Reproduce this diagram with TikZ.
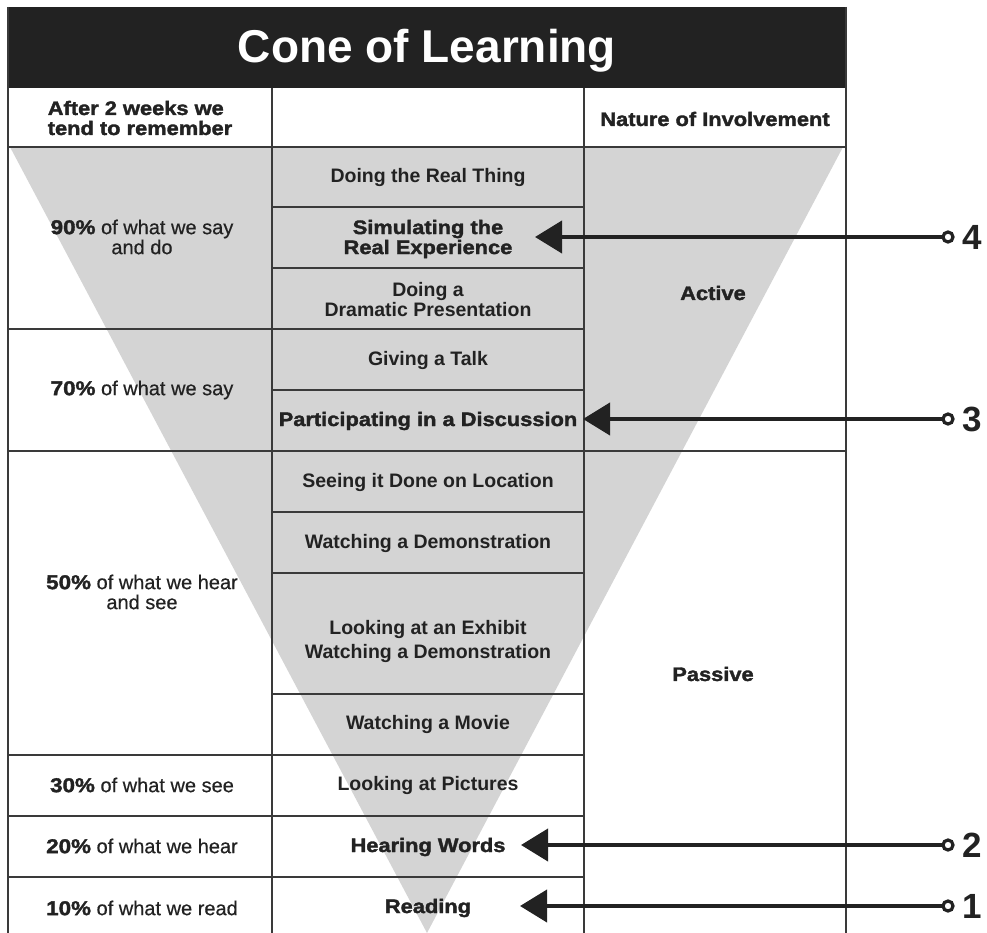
\documentclass[tikz,border=0pt]{standalone}
\usepackage{fontspec}
\setmainfont{Liberation Sans}
\newfontfamily\blackfont[FakeBold=1.8,FakeStretch=1.12]{Liberation Sans Bold}
\newfontfamily\medfont[FakeBold=0.5]{Liberation Sans}
\usetikzlibrary{positioning, arrows.meta}
\definecolor{conegray}{HTML}{D4D4D4}
\definecolor{rule}{HTML}{3A3A3A}
\definecolor{ink}{HTML}{222222}
\newcommand{\hi}[1]{{\blackfont #1}}
\tikzset{>=latex,
  grid/.style={draw=rule, line width=1.6pt},
  titlefont/.style={font=\fontsize{46}{46}\selectfont\bfseries, text=white, inner sep=0pt},
  item/.style={font=\fontsize{19.5}{20}\selectfont\bfseries, text=ink, align=center, inner sep=0pt},
  hot/.style={font=\fontsize{19.5}{20}\selectfont\blackfont, text=ink, align=center, inner sep=0pt},
  pct/.style={font=\fontsize{20}{20}\selectfont\medfont, text=ink, align=center, inner sep=0pt},
  pointer/.style={draw=ink, line width=4pt, -{Triangle[length=27pt,width=32pt]}},
  ring/.style={circle, draw=ink, line width=3.2pt, fill=white, minimum size=10pt, inner sep=0pt},
  numlbl/.style={font=\fontsize{35}{35}\selectfont\bfseries, text=ink, inner sep=0pt}
}

\begin{document}
\begin{tikzpicture}[x=1pt, y=-1pt]
\useasboundingbox (0,0) rectangle (987,933);
% the cone
\fill[conegray] (10,147) -- (843,147) -- (427,933) -- cycle;
% title bar
\fill[ink] (8,7) rectangle (846,88);
\node[titlefont] (title) at (427,51) {Cone of Learning};
% table rules
\draw[grid] (8,7) -- (8,933);
\draw[grid] (846,7) -- (846,933);
\draw[grid] (272,88) -- (272,933);
\draw[grid] (584,88) -- (584,933);
\draw[grid] (8,147) -- (846,147);
\draw[grid] (8,451) -- (846,451);
\foreach \y in {329,755,816,877} \draw[grid] (8,\y) -- (584,\y);
\foreach \y in {207,268,390,512,573,694} \draw[grid] (272,\y) -- (584,\y);
% headers
\node[hot, align=left] (hdrL) at (140,118) {After 2 weeks we\\tend to remember};
\node[hot] (hdrR) at (715,119) {Nature of Involvement};
% what we remember
\node[pct] (p90) at (142,237) {\hi{90\%} of what we say\\and do};
\node[pct] (p70) at (142,390) {\hi{70\%} of what we say};
\node[pct] (p50) at (142,592) {\hi{50\%} of what we hear\\and see};
\node[pct] (p30) at (142,785) {\hi{30\%} of what we see};
\node[pct] (p20) at (142,846) {\hi{20\%} of what we hear};
\node[pct] (p10) at (142,908) {\hi{10\%} of what we read};
% activities
\node[item] (m1) at (428,178) {Doing the Real Thing};
\node[hot] (m2) at (428,239) {Simulating the\\Real Experience};
\node[item] (m3) at (428,300) {Doing a\\Dramatic Presentation};
\node[item] (m4) at (428,360) {Giving a Talk};
\node[hot] (m5) at (428,421) {Participating in a Discussion};
\node[item] (m6) at (428,482) {Seeing it Done on Location};
\node[item] (m7) at (428,543) {Watching a Demonstration};
\node[item] (m8) at (428,641) {Looking at an Exhibit\\[4pt]Watching a Demonstration};
\node[item] (m9) at (428,724) {Watching a Movie};
\node[item] (m10) at (428,785) {Looking at Pictures};
\node[hot] (m11) at (428,847) {Hearing Words};
\node[hot] (m12) at (428,908) {Reading};
% involvement
\node[hot] (act) at (713,293) {Active};
\node[hot] (pas) at (713,674) {Passive};
% pointers
\coordinate (t4) at (535,237);
\coordinate (t3) at (583,419);
\coordinate (t2) at (521,845);
\coordinate (t1) at (520,906);
\coordinate (s4) at (948,237);
\coordinate (s3) at (948,419);
\coordinate (s2) at (948,845);
\coordinate (s1) at (948,906);
\draw[pointer] (s4) -- (t4);
\draw[pointer] (s3) -- (t3);
\draw[pointer] (s2) -- (t2);
\draw[pointer] (s1) -- (t1);
\node[ring] (c4) at (s4) {};
\node[ring] (c3) at (s3) {};
\node[ring] (c2) at (s2) {};
\node[ring] (c1) at (s1) {};
\node[numlbl, right=8pt of c4] (n4) {4};
\node[numlbl, right=8pt of c3] (n3) {3};
\node[numlbl, right=8pt of c2] (n2) {2};
\node[numlbl, right=8pt of c1] (n1) {1};
\end{tikzpicture}
\end{document}
